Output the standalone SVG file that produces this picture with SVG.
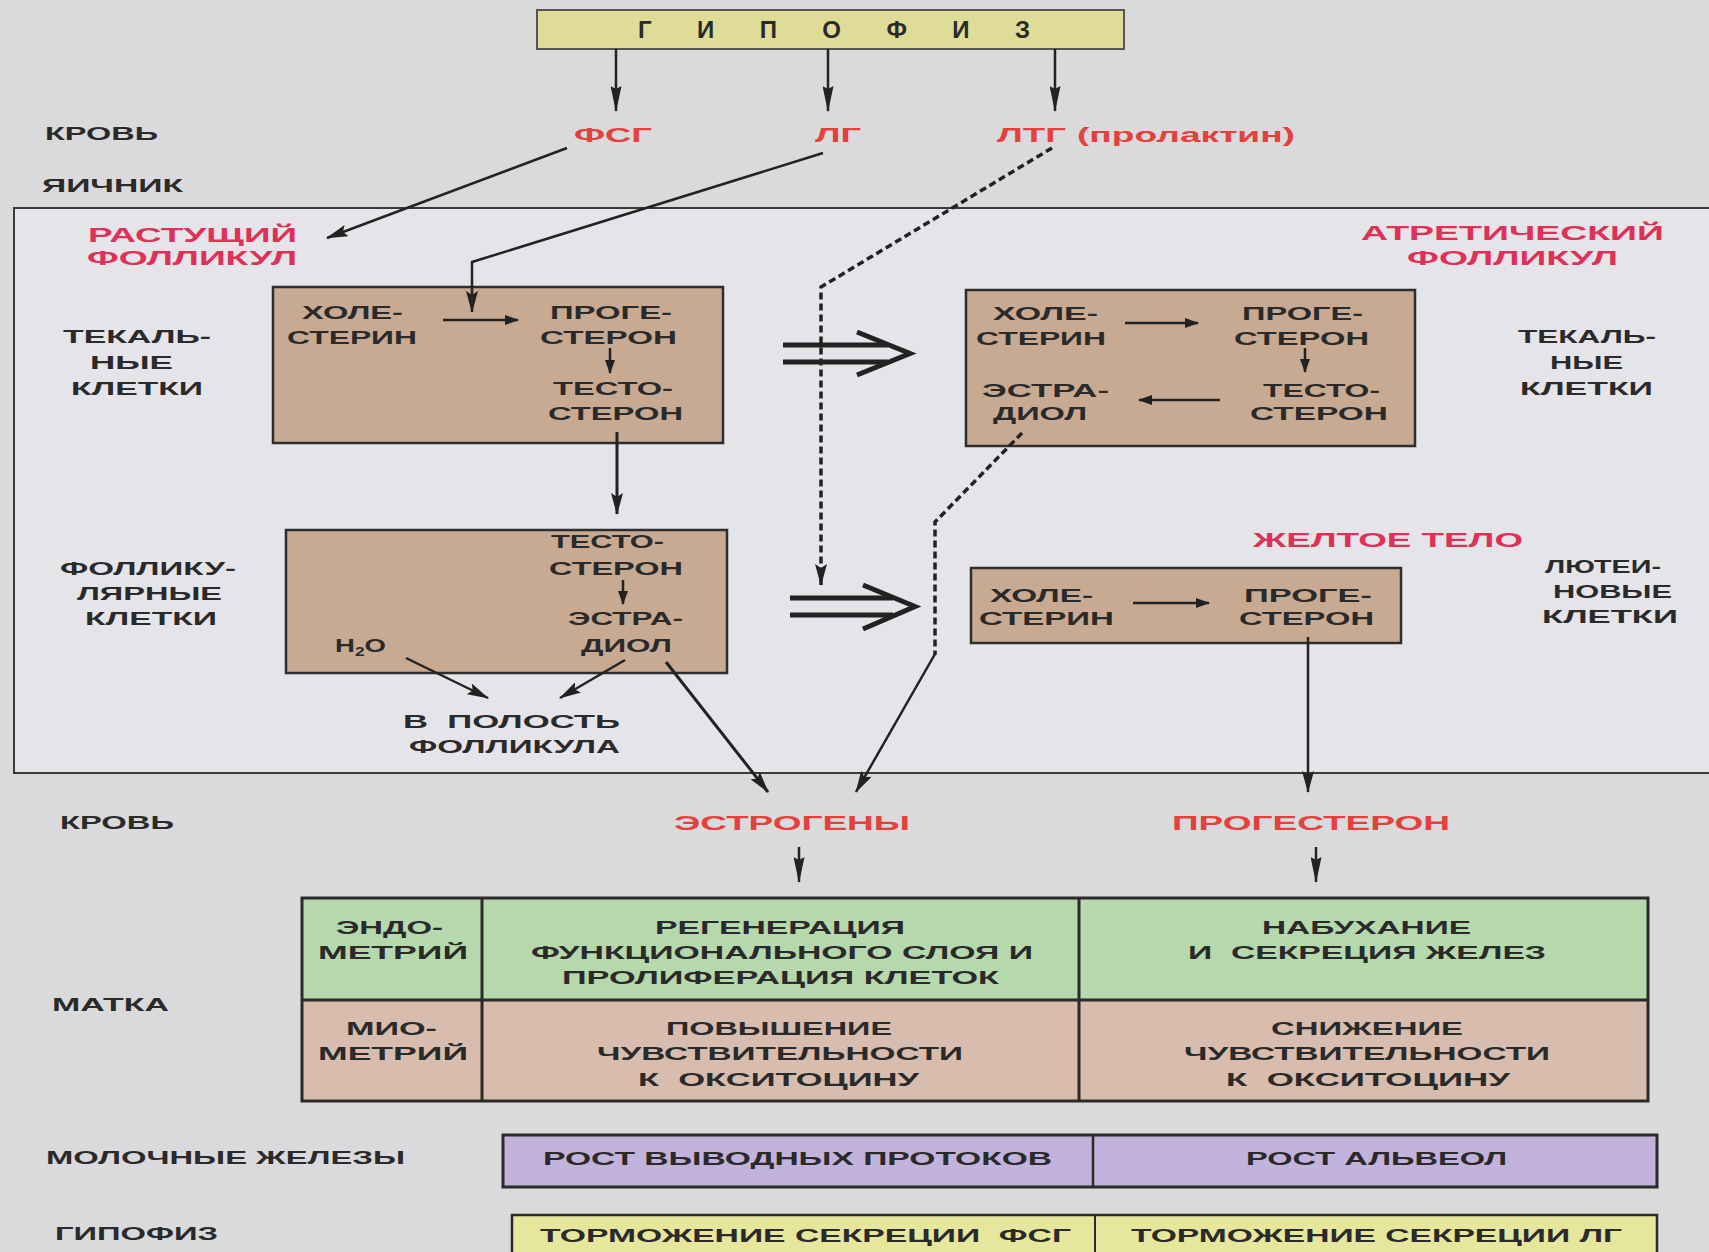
<svg xmlns="http://www.w3.org/2000/svg" width="1709" height="1252" viewBox="0 0 1709 1252">
<defs>
<style>
text{font-family:"Liberation Sans",Arial,sans-serif;font-weight:bold;font-size:19px;fill:#2a2a2a}
.r{fill:#e5403c;font-size:21px}
.p{fill:#df3058;font-size:21px}
.box{fill:#c8aa92;stroke:#2e2e2e;stroke-width:2.5}
.ln{stroke:#222;stroke-width:2.5;fill:none}
.thk{stroke:#222;stroke-width:3;fill:none}
.dash{stroke:#222;stroke-width:3.5;fill:none;stroke-dasharray:7 4}
.dbl{stroke:#222;stroke-width:5;fill:none}
.pre{white-space:pre}
</style>
<marker id="ah" viewBox="0 0 22 12" refX="21" refY="6" markerWidth="22" markerHeight="12" markerUnits="userSpaceOnUse" orient="auto"><path d="M0,0 L22,6 L0,12 L4,6 z" fill="#222"/></marker>
<marker id="ahl" viewBox="0 0 26 11" refX="25" refY="5.5" markerWidth="26" markerHeight="11" markerUnits="userSpaceOnUse" orient="auto"><path d="M0,0 L26,5.5 L0,11 L3,5.5 z" fill="#222"/></marker>
<marker id="ahs" viewBox="0 0 14 10" refX="13" refY="5" markerWidth="14" markerHeight="10" markerUnits="userSpaceOnUse" orient="auto"><path d="M0,0 L14,5 L0,10 z" fill="#222"/></marker>
</defs>
<rect x="0" y="0" width="1709" height="1252" fill="#dadadd"/>

<g id="hypophysis-top">
<rect x="537" y="10" width="587" height="39" fill="#dedc96" stroke="#555" stroke-width="2"/>
<text x="638" y="38" textLength="392" lengthAdjust="spacing" style="font-size:24px">Г И П О Ф И З</text>
</g>

<g id="labels-left">
<text x="45" y="140" textLength="113" lengthAdjust="spacingAndGlyphs">КРОВЬ</text>
<text x="42" y="192" textLength="141" lengthAdjust="spacingAndGlyphs">ЯИЧНИК</text>
</g>

<g id="hormones-top">
<text class="r" x="574" y="142" textLength="78" lengthAdjust="spacingAndGlyphs">ФСГ</text>
<text class="r" x="815" y="142" textLength="46" lengthAdjust="spacingAndGlyphs">ЛГ</text>
<text class="r" x="997" y="142" textLength="69" lengthAdjust="spacingAndGlyphs">ЛТГ</text>
<text class="r" x="1077" y="142" textLength="218" lengthAdjust="spacingAndGlyphs">(пролактин)</text>
</g>

<g id="ovary">
<rect x="14" y="208" width="1720" height="565" fill="#e5e5e9" stroke="#3a3a3a" stroke-width="2"/>
</g>

<g id="growing-follicle">
<text class="p" x="88" y="242" textLength="209" lengthAdjust="spacingAndGlyphs">РАСТУЩИЙ</text>
<text class="p" x="87" y="265" textLength="210" lengthAdjust="spacingAndGlyphs">ФОЛЛИКУЛ</text>
</g>

<g id="theca-left-label">
<text x="63" y="343" textLength="148" lengthAdjust="spacingAndGlyphs">ТЕКАЛЬ-</text>
<text x="90" y="369" textLength="83" lengthAdjust="spacingAndGlyphs">НЫЕ</text>
<text x="71" y="395" textLength="132" lengthAdjust="spacingAndGlyphs">КЛЕТКИ</text>
</g>

<g id="box-theca-growing">
<rect class="box" x="273" y="287" width="450" height="156"/>
<text x="302" y="319" textLength="101" lengthAdjust="spacingAndGlyphs">ХОЛЕ-</text>
<text x="287" y="344" textLength="130" lengthAdjust="spacingAndGlyphs">СТЕРИН</text>
<text x="550" y="319" textLength="122" lengthAdjust="spacingAndGlyphs">ПРОГЕ-</text>
<text x="540" y="344" textLength="137" lengthAdjust="spacingAndGlyphs">СТЕРОН</text>
<text x="553" y="395" textLength="120" lengthAdjust="spacingAndGlyphs">ТЕСТО-</text>
<text x="548" y="420" textLength="135" lengthAdjust="spacingAndGlyphs">СТЕРОН</text>
</g>

<g id="follicular-label">
<text x="60" y="575" textLength="176" lengthAdjust="spacingAndGlyphs">ФОЛЛИКУ-</text>
<text x="77" y="600" textLength="145" lengthAdjust="spacingAndGlyphs">ЛЯРНЫЕ</text>
<text x="85" y="625" textLength="132" lengthAdjust="spacingAndGlyphs">КЛЕТКИ</text>
</g>

<g id="box-follicular">
<rect class="box" x="286" y="530" width="441" height="143"/>
<text x="551" y="548" textLength="113" lengthAdjust="spacingAndGlyphs">ТЕСТО-</text>
<text x="549" y="575" textLength="134" lengthAdjust="spacingAndGlyphs">СТЕРОН</text>
<text x="568" y="625" textLength="115" lengthAdjust="spacingAndGlyphs">ЭСТРА-</text>
<text x="581" y="652" textLength="91" lengthAdjust="spacingAndGlyphs">ДИОЛ</text>
<text transform="translate(335,652) scale(1.45,1)">H<tspan style="font-size:12px" dy="4">2</tspan><tspan dy="-4">O</tspan></text>
</g>

<g id="cavity">
<text class="pre" x="403" y="728" textLength="217" lengthAdjust="spacingAndGlyphs">В  ПОЛОСТЬ</text>
<text x="409" y="753" textLength="211" lengthAdjust="spacingAndGlyphs">ФОЛЛИКУЛА</text>
</g>

<g id="atretic-follicle">
<text class="p" x="1361" y="240" textLength="303" lengthAdjust="spacingAndGlyphs">АТРЕТИЧЕСКИЙ</text>
<text class="p" x="1407" y="265" textLength="211" lengthAdjust="spacingAndGlyphs">ФОЛЛИКУЛ</text>
</g>

<g id="box-theca-atretic">
<rect class="box" x="966" y="290" width="449" height="156"/>
<text x="993" y="320" textLength="105" lengthAdjust="spacingAndGlyphs">ХОЛЕ-</text>
<text x="976" y="345" textLength="130" lengthAdjust="spacingAndGlyphs">СТЕРИН</text>
<text x="1242" y="320" textLength="121" lengthAdjust="spacingAndGlyphs">ПРОГЕ-</text>
<text x="1234" y="345" textLength="135" lengthAdjust="spacingAndGlyphs">СТЕРОН</text>
<text x="1263" y="397" textLength="117" lengthAdjust="spacingAndGlyphs">ТЕСТО-</text>
<text x="1250" y="420" textLength="138" lengthAdjust="spacingAndGlyphs">СТЕРОН</text>
<text x="982" y="397" textLength="127" lengthAdjust="spacingAndGlyphs">ЭСТРА-</text>
<text x="993" y="420" textLength="94" lengthAdjust="spacingAndGlyphs">ДИОЛ</text>
</g>

<g id="theca-right-label">
<text x="1518" y="343" textLength="138" lengthAdjust="spacingAndGlyphs">ТЕКАЛЬ-</text>
<text x="1550" y="369" textLength="73" lengthAdjust="spacingAndGlyphs">НЫЕ</text>
<text x="1520" y="395" textLength="133" lengthAdjust="spacingAndGlyphs">КЛЕТКИ</text>
</g>

<g id="corpus-luteum">
<text class="p" x="1253" y="547" textLength="270" lengthAdjust="spacingAndGlyphs">ЖЕЛТОЕ ТЕЛО</text>
</g>

<g id="box-luteal">
<rect class="box" x="971" y="568" width="430" height="75"/>
<text x="990" y="602" textLength="103" lengthAdjust="spacingAndGlyphs">ХОЛЕ-</text>
<text x="979" y="625" textLength="135" lengthAdjust="spacingAndGlyphs">СТЕРИН</text>
<text x="1244" y="602" textLength="128" lengthAdjust="spacingAndGlyphs">ПРОГЕ-</text>
<text x="1239" y="625" textLength="135" lengthAdjust="spacingAndGlyphs">СТЕРОН</text>
</g>

<g id="luteal-label">
<text x="1545" y="573" textLength="116" lengthAdjust="spacingAndGlyphs">ЛЮТЕИ-</text>
<text x="1553" y="598" textLength="119" lengthAdjust="spacingAndGlyphs">НОВЫЕ</text>
<text x="1542" y="623" textLength="136" lengthAdjust="spacingAndGlyphs">КЛЕТКИ</text>
</g>

<g id="blood-bottom">
<text x="60" y="829" textLength="114" lengthAdjust="spacingAndGlyphs">КРОВЬ</text>
<text class="r" x="674" y="830" textLength="236" lengthAdjust="spacingAndGlyphs">ЭСТРОГЕНЫ</text>
<text class="r" x="1172" y="830" textLength="278" lengthAdjust="spacingAndGlyphs">ПРОГЕСТЕРОН</text>
</g>

<g id="uterus">
<text x="52" y="1011" textLength="117" lengthAdjust="spacingAndGlyphs">МАТКА</text>
<rect x="302" y="898" width="1346" height="102" fill="#b6d8ad"/>
<rect x="302" y="1000" width="1346" height="101" fill="#d8bcae"/>
<rect x="302" y="898" width="1346" height="203" fill="none" stroke="#2a2a2a" stroke-width="3"/>
<line x1="302" y1="1000" x2="1648" y2="1000" stroke="#2a2a2a" stroke-width="3"/>
<line x1="482" y1="898" x2="482" y2="1101" stroke="#2a2a2a" stroke-width="3"/>
<line x1="1079" y1="898" x2="1079" y2="1101" stroke="#2a2a2a" stroke-width="3"/>
<text x="336" y="934" textLength="107" lengthAdjust="spacingAndGlyphs">ЭНДО-</text>
<text x="318" y="959" textLength="150" lengthAdjust="spacingAndGlyphs">МЕТРИЙ</text>
<text x="346" y="1035" textLength="91" lengthAdjust="spacingAndGlyphs">МИО-</text>
<text x="318" y="1060" textLength="150" lengthAdjust="spacingAndGlyphs">МЕТРИЙ</text>
<text x="655" y="934" textLength="250" lengthAdjust="spacingAndGlyphs">РЕГЕНЕРАЦИЯ</text>
<text x="531" y="959" textLength="502" lengthAdjust="spacingAndGlyphs">ФУНКЦИОНАЛЬНОГО СЛОЯ И</text>
<text x="562" y="984" textLength="437" lengthAdjust="spacingAndGlyphs">ПРОЛИФЕРАЦИЯ КЛЕТОК</text>
<text x="1262" y="934" textLength="209" lengthAdjust="spacingAndGlyphs">НАБУХАНИЕ</text>
<text class="pre" x="1188" y="959" textLength="358" lengthAdjust="spacingAndGlyphs">И  СЕКРЕЦИЯ ЖЕЛЕЗ</text>
<text x="666" y="1035" textLength="226" lengthAdjust="spacingAndGlyphs">ПОВЫШЕНИЕ</text>
<text x="597" y="1060" textLength="366" lengthAdjust="spacingAndGlyphs">ЧУВСТВИТЕЛЬНОСТИ</text>
<text class="pre" x="638" y="1086" textLength="281" lengthAdjust="spacingAndGlyphs">К  ОКСИТОЦИНУ</text>
<text x="1271" y="1035" textLength="192" lengthAdjust="spacingAndGlyphs">СНИЖЕНИЕ</text>
<text x="1184" y="1060" textLength="366" lengthAdjust="spacingAndGlyphs">ЧУВСТВИТЕЛЬНОСТИ</text>
<text class="pre" x="1226" y="1086" textLength="284" lengthAdjust="spacingAndGlyphs">К  ОКСИТОЦИНУ</text>
</g>

<g id="mammary">
<text x="46" y="1164" textLength="359" lengthAdjust="spacingAndGlyphs">МОЛОЧНЫЕ ЖЕЛЕЗЫ</text>
<rect x="503" y="1135" width="1154" height="52" fill="#c2b3dc" stroke="#2a2a2a" stroke-width="3"/>
<line x1="1093" y1="1135" x2="1093" y2="1187" stroke="#2a2a2a" stroke-width="2.5"/>
<text x="543" y="1165" textLength="509" lengthAdjust="spacingAndGlyphs">РОСТ ВЫВОДНЫХ ПРОТОКОВ</text>
<text x="1246" y="1165" textLength="261" lengthAdjust="spacingAndGlyphs">РОСТ АЛЬВЕОЛ</text>
</g>

<g id="hypophysis-bottom">
<text x="55" y="1240" textLength="163" lengthAdjust="spacingAndGlyphs">ГИПОФИЗ</text>
<rect x="512" y="1215" width="1145" height="60" fill="#e6e69c" stroke="#2a2a2a" stroke-width="2.5"/>
<line x1="1095" y1="1215" x2="1095" y2="1252" stroke="#2a2a2a" stroke-width="2"/>
<text class="pre" x="540" y="1242" textLength="531" lengthAdjust="spacingAndGlyphs">ТОРМОЖЕНИЕ СЕКРЕЦИИ  ФСГ</text>
<text x="1131" y="1242" textLength="491" lengthAdjust="spacingAndGlyphs">ТОРМОЖЕНИЕ СЕКРЕЦИИ ЛГ</text>
</g>

<g id="connectors">
<line class="ln" x1="616" y1="49" x2="616" y2="111" marker-end="url(#ahl)"/>
<line class="ln" x1="828" y1="49" x2="828" y2="111" marker-end="url(#ahl)"/>
<line class="ln" x1="1055" y1="49" x2="1055" y2="111" marker-end="url(#ahl)"/>
<line class="ln" x1="567" y1="148" x2="327" y2="238" marker-end="url(#ah)"/>
<polyline class="ln" points="823,153 472,262 472,312" marker-end="url(#ah)"/>
<polyline class="dash" points="1052,148 821,287 821,585" marker-end="url(#ah)"/>
<line class="ln" x1="443" y1="320" x2="518" y2="320" marker-end="url(#ahs)"/>
<line class="ln" x1="610" y1="348" x2="610" y2="373" marker-end="url(#ahs)"/>
<line class="thk" x1="617" y1="432" x2="617" y2="514" marker-end="url(#ah)"/>
<line class="ln" x1="623" y1="580" x2="623" y2="604" marker-end="url(#ahs)"/>
<line class="ln" x1="406" y1="658" x2="488" y2="698" marker-end="url(#ah)"/>
<line class="ln" x1="625" y1="660" x2="560" y2="698" marker-end="url(#ah)"/>
<line class="thk" x1="666" y1="662" x2="768" y2="792" marker-end="url(#ah)"/>
<line class="ln" x1="1125" y1="323" x2="1198" y2="323" marker-end="url(#ahs)"/>
<line class="ln" x1="1305" y1="348" x2="1305" y2="372" marker-end="url(#ahs)"/>
<line class="ln" x1="1220" y1="400" x2="1139" y2="400" marker-end="url(#ahs)"/>
<polyline class="dash" points="1022,433 935,522 935,655"/>
<line class="ln" x1="935" y1="654" x2="856" y2="792" marker-end="url(#ah)"/>
<line class="ln" x1="1133" y1="603" x2="1209" y2="603" marker-end="url(#ahs)"/>
<line class="ln" x1="1308" y1="637" x2="1308" y2="792" marker-end="url(#ah)"/>
<line class="dbl" x1="783" y1="345" x2="888" y2="345"/>
<line class="dbl" x1="783" y1="362" x2="888" y2="362"/>
<polyline class="dbl" points="857,332 910,353.5 857,375"/>
<line class="dbl" x1="790" y1="598" x2="893" y2="598"/>
<line class="dbl" x1="790" y1="615" x2="893" y2="615"/>
<polyline class="dbl" points="863,585 915,606.5 863,629"/>
<line class="ln" x1="799" y1="847" x2="799" y2="882" marker-end="url(#ahl)"/>
<line class="ln" x1="1316" y1="847" x2="1316" y2="882" marker-end="url(#ahl)"/>
</g>
</svg>
